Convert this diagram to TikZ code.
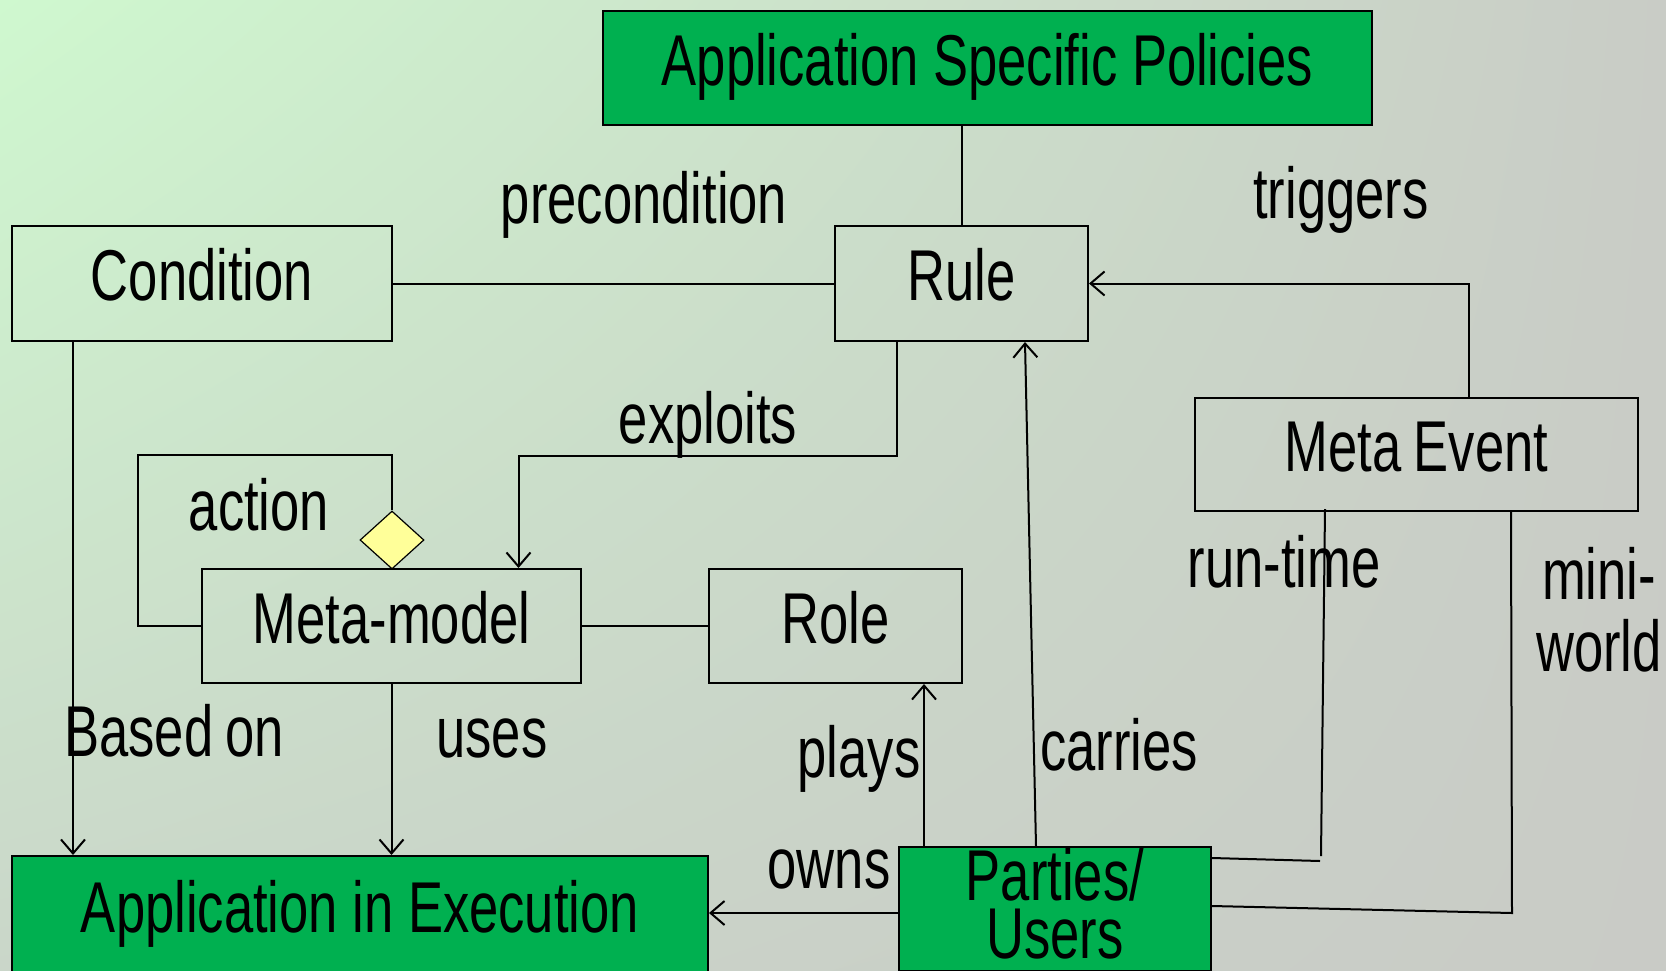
\documentclass[tikz,border=0pt]{standalone}
\usepackage{fontspec}
\setmainfont{Liberation Sans}[FakeStretch=0.73]
\usetikzlibrary{shapes.geometric,arrows.meta,shadings}

\definecolor{bgTL}{HTML}{CFF8CF}
\definecolor{bgTR}{HTML}{C9CCC6}
\definecolor{bgBL}{HTML}{CAD6C9}
\definecolor{bgBR}{HTML}{C9CBC6}
\definecolor{boxgreen}{HTML}{00B050}
\definecolor{diayellow}{HTML}{FFFF99}

\tikzset{
    entity/.style={draw, line width=1pt, inner sep=0pt, text height=26pt, text depth=9pt,
        font=\fontsize{36}{29}\selectfont},
    policy/.style={entity, fill=boxgreen},
    lbl/.style={inner sep=0pt, align=center, font=\fontsize{36}{36}\selectfont},
    conn/.style={line width=1pt, arrows={-Straight Barb[length=7pt,width=12pt]}},
    plain/.style={line width=1pt}
}

\begin{document}
\begin{tikzpicture}[x=0.5pt, y=-0.5pt]
    % Background
    \shade[upper left=bgTL, upper right=bgTR, lower left=bgBL, lower right=bgBR]
        (0,0) rectangle (1666,970);
    \useasboundingbox (0,0) rectangle (1666,970);

    % Boxes
    \node[policy, minimum width=384.5pt, minimum height=57pt] (asp) at (987.5,68) {Application Specific Policies};
    \node[entity, minimum width=190pt, minimum height=57.5pt] (cond) at (202,283.5) {Condition};
    \node[entity, minimum width=126.5pt, minimum height=57.5pt] (rule) at (961.5,283.5) {Rule};
    \node[entity, minimum width=221.5pt, minimum height=56.5pt] (meta) at (1416.5,454.5) {Meta\,Event};
    \node[entity, minimum width=189.5pt, minimum height=57pt] (mm) at (391.5,626) {Meta-model};
    \node[entity, minimum width=126.5pt, minimum height=57pt] (role) at (835.5,626) {Role};
    \node[policy, minimum width=348pt, minimum height=59pt] (exec) at (360,915) {Application in Execution};
    \node[policy, align=center, text height=55pt, text depth=5.5pt,
        minimum width=156pt, minimum height=62pt] (parties) at (1055,909) {Parties/\\Users};
    \node[draw, line width=0.6pt, fill=diayellow, diamond, inner sep=0pt,
        minimum width=32pt, minimum height=29pt] (dia) at (392,540) {};

    % Labels
    \node[lbl] (lprecond) at (644,205) {precondition};
    \node[lbl] (ltrig) at (1341,200) {triggers};
    \node[lbl] (lexpl) at (708,425) {exploits};
    \node[lbl] (laction) at (259,505) {action};
    \node[lbl] (lbased) at (174,731) {Based\,on};
    \node[lbl] (luses) at (492,738) {uses};
    \node[lbl] (lplays) at (859,759) {plays};
    \node[lbl] (lcarries) at (1119,745) {carries};
    \node[lbl] (lowns) at (829,869) {owns};
    \node[lbl] (lrun) at (1284,562) {run-time};
    \node[lbl] (lmini) at (1599,610) {mini-\\world};

    % Connectors
    \draw[plain] (rule.north) -- (rule.north |- asp.south);
    \draw[plain] (cond.east) -- (rule.west);
    \draw[conn] ([xshift=26pt]meta.north) |- (rule.east);
    \draw[conn] ([xshift=31.5pt]rule.south west) -- ++(0,114) -| ([xshift=63.5pt]mm.north);
    \draw[plain] (mm.west) -- ++(-63,0) -- ++(0,-171) -| (dia.north);
    \draw[plain] (mm.east) -- (role.west);
    \draw[conn] ([xshift=31pt]cond.south west) -- ([xshift=31pt]exec.north west);
    \draw[conn] (mm.south) -- (mm.south |- exec.north);

    \coordinate (playsfoot) at ([xshift=13pt]parties.north west);
    \draw[conn] (playsfoot) -- (playsfoot |- role.south);
    \draw[conn] ([xshift=-9.5pt]parties.north) -- ([xshift=31.75pt]rule.south);
    \coordinate (ownsfoot) at ([yshift=-2pt]parties.west);
    \draw[conn] (ownsfoot) -- (ownsfoot -| exec.east);

    % run-time and mini-world
    \draw[plain] ([yshift=25.5pt]parties.east) -- ++(108,3);
    \draw[plain] ([xshift=-45.75pt,yshift=1.5pt]meta.south) -- ++(-4,347);
    \draw[plain] ([yshift=1.5pt]parties.east) -- ++(300,7) -- ([xshift=47.25pt]meta.south);
\end{tikzpicture}
\end{document}
